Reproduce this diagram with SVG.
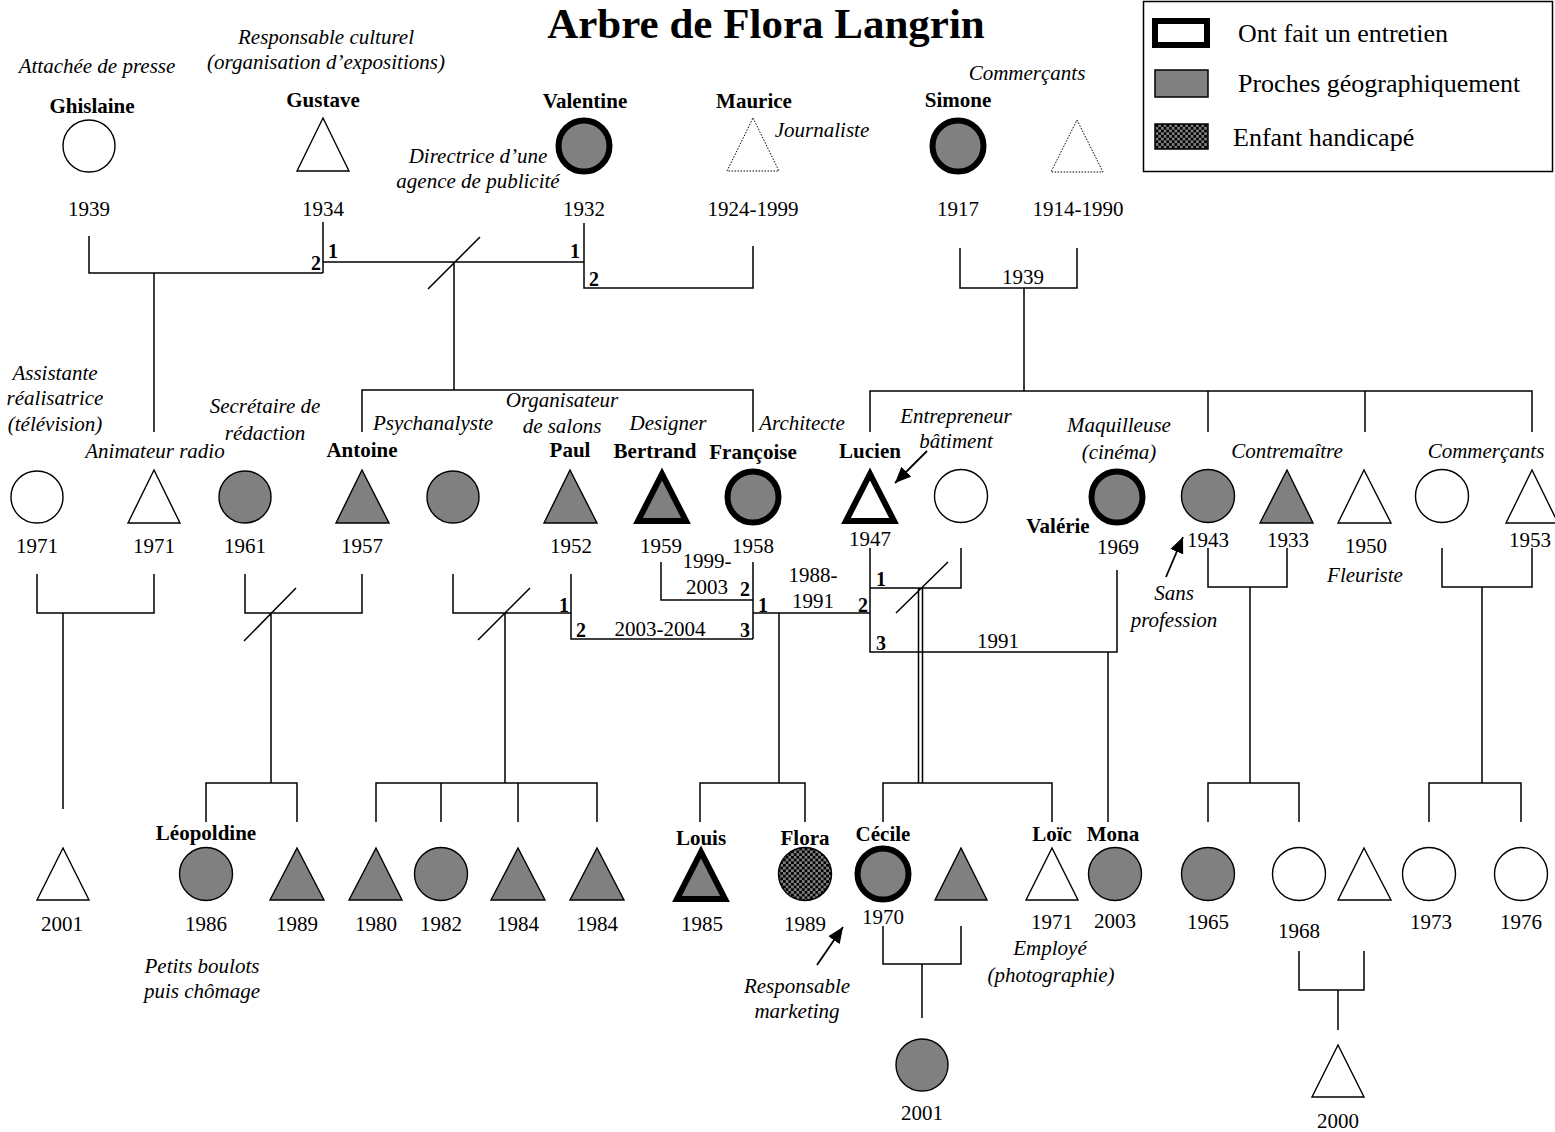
<svg xmlns="http://www.w3.org/2000/svg" width="1555" height="1132" viewBox="0 0 1555 1132">
<style>
text{font-family:"Liberation Serif","Times New Roman",serif;font-size:21px;fill:#000}
.nm{font-weight:bold;text-anchor:middle}
.yr{text-anchor:middle}
.it{font-style:italic;text-anchor:middle}
.num{font-weight:bold;font-size:20px}
.lg{font-size:26px}
.ln{stroke:#000;stroke-width:1.5;fill:none}
.sh{stroke:#000;stroke-width:1.4}
.g{fill:#808080}
.w{fill:#fff}
.tk{stroke-width:6}
.dot{stroke:#000;stroke-width:1;stroke-dasharray:1.5 1.5;fill:#fff}
.ar{stroke:#000;stroke-width:1.8;fill:none}
</style>
<defs>
<pattern id="chk" width="5.4" height="5.4" patternUnits="userSpaceOnUse">
<rect width="5.4" height="5.4" fill="#808080"/>
<rect width="2.7" height="2.7" fill="#000"/>
<rect x="2.7" y="2.7" width="2.7" height="2.7" fill="#000"/>
</pattern>
<marker id="arr" markerUnits="userSpaceOnUse" markerWidth="16" markerHeight="14" refX="16" refY="7" orient="auto">
<path d="M0,0 L16,7 L0,14 z" fill="#000"/>
</marker>
</defs>
<rect width="1555" height="1132" fill="#fff"/>
<text x="766" y="38" style="font-weight:bold;font-size:43px;text-anchor:middle">Arbre de Flora Langrin</text>
<g id="legend">
<rect x="1143.5" y="1.5" width="409" height="170" fill="#fff" stroke="#000" stroke-width="1.5"/>
<rect x="1155" y="21" width="52" height="24" fill="#fff" stroke="#000" stroke-width="6"/>
<text class="lg" x="1238" y="42">Ont fait un entretien</text>
<rect x="1155" y="70" width="53" height="27" class="g" stroke="#000" stroke-width="1.5"/>
<text class="lg" x="1238" y="92">Proches géographiquement</text>
<rect x="1155" y="124" width="53" height="25" fill="url(#chk)" stroke="#000" stroke-width="1.5"/>
<text class="lg" x="1233" y="146">Enfant handicapé</text>
</g>
<g id="connectors">
<path class="ln" d="M89,236 V273 H323 M323,222 V273 M154,273 V432"/>
<path class="ln" d="M323,262 H584 M428,289 L480,237 M454,262 V390"/>
<path class="ln" d="M584,223 V288 H753 V246"/>
<path class="ln" d="M960,248 V288 H1077 V248 M1024,288 V391"/>
<path class="ln" d="M362,432 V390 H753 V432"/>
<path class="ln" d="M870,432 V391 H1532 V432 M1208,391 V432 M1365,391 V432"/>
<path class="ln" d="M37,574 V613 H154 V574 M63,613 V809"/>
<path class="ln" d="M245,574 V613 H362 V574 M244,641 L296,588 M271,613 V783"/>
<path class="ln" d="M453,574 V613 H571 M571,574 V639 H753 M478,640 L530,588 M505,613 V783"/>
<path class="ln" d="M661,562 V600 H753 M753,562 V639"/>
<path class="ln" d="M753,613 H870 M779,613 V783"/>
<path class="ln" d="M870,548 V652 H1117 V570 M870,588 H961 V548 M896,613 L948,562 M918.5,588 V783 M922.5,588 V783"/>
<path class="ln" d="M1108,652 V822"/>
<path class="ln" d="M1208,548 V587 H1287 V548 M1250,587 V783"/>
<path class="ln" d="M1442,548 V587 H1532 V548 M1482,587 V783"/>
<path class="ln" d="M206,822 V783 H297 V822"/>
<path class="ln" d="M376,822 V783 H597 V822 M441,783 V822 M518,783 V822"/>
<path class="ln" d="M700,822 V783 H805 V822"/>
<path class="ln" d="M883,822 V783 H1052 V822"/>
<path class="ln" d="M1208,822 V783 H1299 V822"/>
<path class="ln" d="M1429,822 V783 H1521 V822"/>
<path class="ln" d="M883,926 V964 H961 V926 M922,964 V1018"/>
<path class="ln" d="M1299,951 V990 H1364 V951 M1338,990 V1030"/>
<path class="ar" d="M927,451 L895,483" marker-end="url(#arr)"/>
<path class="ar" d="M1166,577 L1183,537" marker-end="url(#arr)"/>
<path class="ar" d="M817,965 L843,927" marker-end="url(#arr)"/>
<text class="num" x="321" y="270" text-anchor="end">2</text>
<text class="num" x="328" y="258">1</text>
<text class="num" x="580" y="258" text-anchor="end">1</text>
<text class="num" x="589" y="286">2</text>
<text class="yr" x="1023" y="284">1939</text>
<text class="num" x="569" y="612" text-anchor="end">1</text>
<text class="num" x="576" y="637">2</text>
<text class="num" x="750" y="637" text-anchor="end">3</text>
<text class="yr" x="660" y="636">2003-2004</text>
<text class="yr" x="707" y="568">1999-</text>
<text class="yr" x="707" y="594">2003</text>
<text class="num" x="750" y="596" text-anchor="end">2</text>
<text class="num" x="758" y="612">1</text>
<text class="yr" x="813" y="582">1988-</text>
<text class="yr" x="813" y="608">1991</text>
<text class="num" x="868" y="612" text-anchor="end">2</text>
<text class="num" x="876" y="586">1</text>
<text class="num" x="876" y="650">3</text>
<text class="yr" x="998" y="648">1991</text>
</g>
<g id="ghislaine"><text class="it" x="97" y="73">Attachée de presse</text><text class="nm" x="92" y="113">Ghislaine</text><circle class="sh w" cx="89" cy="146" r="26"/><text class="yr" x="89" y="216">1939</text></g>
<g id="gustave"><text class="it" x="326" y="44">Responsable culturel</text><text class="it" x="326" y="69">(organisation d’expositions)</text><text class="nm" x="323" y="107">Gustave</text><polygon class="sh w" points="323,118 349,171 297,171"/><text class="yr" x="323" y="216">1934</text></g>
<g id="valentine"><text class="it" x="478" y="163">Directrice d’une</text><text class="it" x="478" y="188">agence de publicité</text><text class="nm" x="585" y="108">Valentine</text><circle class="sh g tk" cx="584" cy="146" r="25.5"/><text class="yr" x="584" y="216">1932</text></g>
<g id="maurice"><text class="nm" x="754" y="108">Maurice</text><polygon class="dot" points="753,118 779,171 727,171"/><text class="it" x="822" y="137">Journaliste</text><text class="yr" x="753" y="216">1924-1999</text></g>
<g id="simone"><text class="it" x="1027" y="80">Commerçants</text><text class="nm" x="958" y="107">Simone</text><circle class="sh g tk" cx="958" cy="146" r="25.5"/><text class="yr" x="958" y="216">1917</text></g>
<g id="grand-pere-simone"><polygon class="dot" points="1077,120 1103,172 1051,172"/><text class="yr" x="1078" y="216">1914-1990</text></g>
<g id="assistante"><text class="it" x="55" y="380">Assistante</text><text class="it" x="55" y="405">réalisatrice</text><text class="it" x="55" y="431">(télévision)</text><circle class="sh w" cx="37" cy="497" r="26"/><text class="yr" x="37" y="553">1971</text></g>
<g id="animateur"><text class="it" x="155" y="458">Animateur radio</text><polygon class="sh w" points="154,470 180,523 128,523"/><text class="yr" x="154" y="553">1971</text></g>
<g id="secretaire"><text class="it" x="265" y="413">Secrétaire de</text><text class="it" x="265" y="440">rédaction</text><circle class="sh g" cx="245" cy="497" r="26"/><text class="yr" x="245" y="553">1961</text></g>
<g id="antoine"><text class="nm" x="362" y="457">Antoine</text><polygon class="sh g" points="362,470 389,523 336,523"/><text class="yr" x="362" y="553">1957</text></g>
<g id="psychanalyste"><text class="it" x="433" y="430">Psychanalyste</text><circle class="sh g" cx="453" cy="497" r="26"/></g>
<g id="paul"><text class="it" x="562" y="407">Organisateur</text><text class="it" x="562" y="433">de salons</text><text class="nm" x="570" y="457">Paul</text><polygon class="sh g" points="570,470 597,523 544,523"/><text class="yr" x="571" y="553">1952</text></g>
<g id="bertrand"><text class="it" x="668" y="430">Designer</text><text class="nm" x="655" y="458">Bertrand</text><polygon class="sh g tk" points="662,474 686,521 638,521"/><text class="yr" x="661" y="553">1959</text></g>
<g id="francoise"><text class="nm" x="753" y="459">Françoise</text><circle class="sh g tk" cx="753" cy="497" r="25.5"/><text class="yr" x="753" y="553">1958</text><text class="it" x="802" y="430">Architecte</text></g>
<g id="lucien"><text class="nm" x="870" y="458">Lucien</text><polygon class="sh w tk" points="870,474 894,521 846,521"/><text class="yr" x="870" y="546">1947</text></g>
<g id="epouse-lucien"><text class="it" x="956" y="423">Entrepreneur</text><text class="it" x="956" y="448">bâtiment</text><circle class="sh w" cx="961" cy="496" r="26.5"/></g>
<g id="valerie"><text class="it" x="1119" y="432">Maquilleuse</text><text class="it" x="1119" y="459">(cinéma)</text><text class="nm" x="1058" y="533">Valérie</text><circle class="sh g tk" cx="1117" cy="497" r="25.5"/><text class="yr" x="1118" y="554">1969</text></g>
<g id="tante-1943"><circle class="sh g" cx="1208" cy="496" r="26.5"/><text class="yr" x="1208" y="547">1943</text><text class="it" x="1174" y="600">Sans</text><text class="it" x="1174" y="627">profession</text></g>
<g id="oncle-1933"><text class="it" x="1287" y="458">Contremaître</text><polygon class="sh g" points="1287,470 1313,523 1260,523"/><text class="yr" x="1288" y="547">1933</text></g>
<g id="oncle-1950"><polygon class="sh w" points="1364,470 1391,523 1338,523"/><text class="yr" x="1366" y="553">1950</text><text class="it" x="1365" y="582">Fleuriste</text></g>
<g id="tante-commercante"><text class="it" x="1486" y="458">Commerçants</text><circle class="sh w" cx="1442" cy="496" r="26.5"/></g>
<g id="oncle-1953"><polygon class="sh w" points="1532,470 1558,523 1506,523"/><text class="yr" x="1530" y="547">1953</text></g>
<g id="enfant-2001"><polygon class="sh w" points="63,848 89,900 37,900"/><text class="yr" x="62" y="931">2001</text></g>
<g id="leopoldine"><text class="nm" x="206" y="840">Léopoldine</text><circle class="sh g" cx="206" cy="874" r="26.5"/><text class="yr" x="206" y="931">1986</text><text class="it" x="202" y="973">Petits boulots</text><text class="it" x="202" y="998">puis chômage</text></g>
<g id="frere-leopoldine"><polygon class="sh g" points="297,848 324,900 270,900"/><text class="yr" x="297" y="931">1989</text></g>
<g id="enfant-1980"><polygon class="sh g" points="376,848 402,900 349,900"/><text class="yr" x="376" y="931">1980</text></g>
<g id="enfant-1982"><circle class="sh g" cx="441" cy="874" r="26.5"/><text class="yr" x="441" y="931">1982</text></g>
<g id="enfant-1984a"><polygon class="sh g" points="518,848 545,900 491,900"/><text class="yr" x="518" y="931">1984</text></g>
<g id="enfant-1984b"><polygon class="sh g" points="597,848 624,900 570,900"/><text class="yr" x="597" y="931">1984</text></g>
<g id="louis"><polygon class="sh g tk" points="701,852 725,899 677,899"/><text class="nm" x="701" y="845">Louis</text><text class="yr" x="702" y="931">1985</text></g>
<g id="flora"><text class="nm" x="805" y="845">Flora</text><circle cx="805" cy="874" r="26.5" fill="url(#chk)" stroke="#000" stroke-width="1.4"/><text class="yr" x="805" y="931">1989</text><text class="it" x="797" y="993">Responsable</text><text class="it" x="797" y="1018">marketing</text></g>
<g id="cecile"><text class="nm" x="883" y="841">Cécile</text><circle class="sh g tk" cx="883" cy="874" r="25.5"/><text class="yr" x="883" y="924">1970</text></g>
<g id="conjoint-cecile"><polygon class="sh g" points="961,848 987,900 935,900"/></g>
<g id="enfant-cecile"><circle class="sh g" cx="922" cy="1065" r="26"/><text class="yr" x="922" y="1120">2001</text></g>
<g id="loic"><text class="nm" x="1052" y="841">Loïc</text><polygon class="sh w" points="1052,848 1078,900 1026,900"/><text class="yr" x="1052" y="929">1971</text><text class="it" x="1050" y="955">Employé</text><text class="it" x="1051" y="982">(photographie)</text></g>
<g id="mona"><text class="nm" x="1113" y="841">Mona</text><circle class="sh g" cx="1115" cy="874" r="26.5"/><text class="yr" x="1115" y="928">2003</text></g>
<g id="cousine-1965"><circle class="sh g" cx="1208" cy="874" r="26.5"/><text class="yr" x="1208" y="929">1965</text></g>
<g id="cousine-1968"><circle class="sh w" cx="1299" cy="874" r="26.5"/><text class="yr" x="1299" y="938">1968</text></g>
<g id="conjoint-1968"><polygon class="sh w" points="1364,848 1391,900 1338,900"/></g>
<g id="enfant-2000"><polygon class="sh w" points="1338,1045 1364,1097 1312,1097"/><text class="yr" x="1338" y="1128">2000</text></g>
<g id="cousine-1973"><circle class="sh w" cx="1429" cy="874" r="26.5"/><text class="yr" x="1431" y="929">1973</text></g>
<g id="cousine-1976"><circle class="sh w" cx="1521" cy="874" r="26.5"/><text class="yr" x="1521" y="929">1976</text></g>
</svg>
